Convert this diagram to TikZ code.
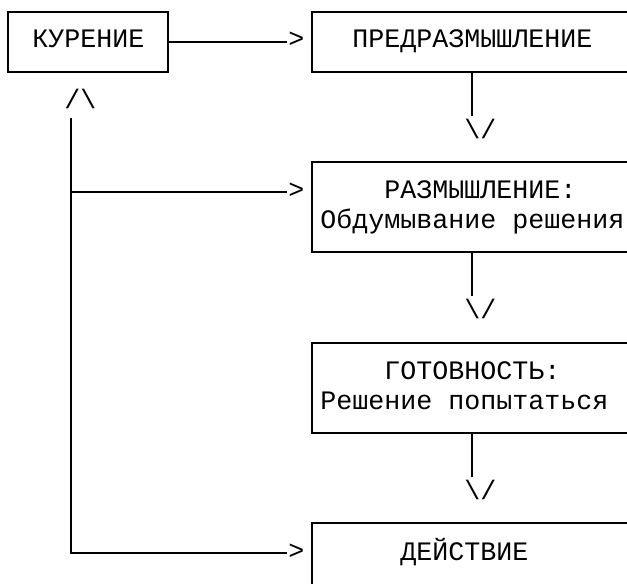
\documentclass[tikz,border=0pt]{standalone}
\usepackage{fontspec}
\newfontfamily\courier{Liberation Mono}

\tikzset{every picture/.style={line width=1.5pt}}
\tikzset{
  stage/.style={draw, rectangle, inner sep=0pt, align=center,
    font=\courier\fontsize{20}{22.575}\selectfont},
  tip/.style={inner sep=0pt, font=\courier\fontsize{20}{22.575}\selectfont}
}
% one text row of the grid
\newcommand\rowstrut{\rule[-6.5pt]{0pt}{22.575pt}}

\begin{document}
\begin{tikzpicture}[x=0.75pt,y=0.75pt,yscale=-1,xscale=1]
\useasboundingbox (0,0) rectangle (627,583);
\clip (0,0) rectangle (627,583);

%Shape: Rectangle
\node [stage, minimum width=120pt, minimum height=45.15pt] (smoke) at (88.3,41.6) {\rowstrut КУРЕНИЕ};
%Shape: Rectangle
\node [stage, minimum width=240pt, minimum height=45.15pt] (precon) at (472.3,41.6) {\rowstrut ПРЕДРАЗМЫШЛЕНИЕ};
%Shape: Rectangle
\node [stage, minimum width=240pt, minimum height=67.725pt] (contem) at (472.3,207.2) {\rowstrut\phantom{x}РАЗМЫШЛЕНИЕ:\\\rowstrut Обдумывание решения};
%Shape: Rectangle
\node [stage, minimum width=240pt, minimum height=67.725pt] (prep) at (472.3,387.75) {\rowstrut ГОТОВНОСТЬ:\\\rowstrut Решение попытаться\phantom{x}};
%Shape: Rectangle (runs past the lower edge)
\node [stage, minimum width=240pt, minimum height=67.725pt] (action) at (472.3,568.35) {\rowstrut ДЕЙСТВИЕ\phantom{x}\\\rowstrut};

% Text Node
\node [tip] (tipA) at (296.3,41.6) {\rowstrut>};
% Text Node
\node [tip] (tipUp) at (80.3,101.8) {\rowstrut/\textbackslash};
% Text Node
\node [tip] (tipB) at (480.3,131.9) {\rowstrut\textbackslash/};
% Text Node
\node [tip] (tipC) at (296.3,192.1) {\rowstrut>};
% Text Node
\node [tip] (tipE) at (480.3,312.5) {\rowstrut\textbackslash/};
% Text Node
\node [tip] (tipF) at (480.3,493.1) {\rowstrut\textbackslash/};
% Text Node
\node [tip] (tipD) at (296.3,553.3) {\rowstrut>};

\coordinate (trunk) at ([xshift=6pt]tipUp.south west);

%Straight Lines
\draw (smoke.east) -- (tipA.west);
%Straight Lines
\draw (precon.south) -- (precon.south |- tipB.north);
%Straight Lines
\draw (contem.south) -- (contem.south |- tipE.north);
%Straight Lines
\draw (prep.south) -- (prep.south |- tipF.north);
%Straight Lines
\draw (trunk) |- (tipD.west);
%Straight Lines
\draw (trunk |- tipC.west) -- (tipC.west);
\end{tikzpicture}
\end{document}
